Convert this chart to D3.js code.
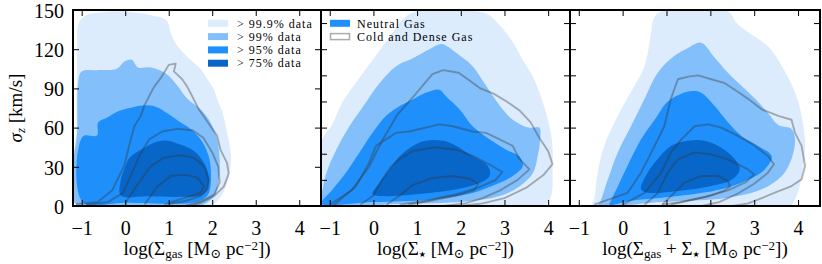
<!DOCTYPE html>
<html>
<head>
	<meta charset="utf-8">
	<script src="https://cdnjs.cloudflare.com/ajax/libs/d3/7.8.5/d3.min.js"></script>
	<style>
	body { margin: 0; background: #fff; }
	text { font-family: "Liberation Serif", "DejaVu Serif", serif; fill: #000; }
	.tick line { stroke: #000; stroke-width: 1px; }
	.tick text { font-size: 20px; }
	.spine { fill: none; stroke: #000; stroke-width: 2px; }
	.fill { stroke: none; }
	.cold { fill: none; stroke: rgba(55,55,55,0.38); stroke-width: 1.9px; stroke-linejoin: round; }
	.legend text { font-size: 12px; letter-spacing: 1px; }
	.star { font-family: "DejaVu Sans", sans-serif; }
	</style>
</head>
<body>
	<svg width="822" height="264"></svg>
	<script>
	//axis ticks
	let xTicks = [-1, 0, 1, 2, 3, 4],
		yTicksFirst = [0, 30, 60, 90, 120, 150],
		yTicksRest = [0, 20, 40, 60, 80, 100, 120, 140];

	//legend labels and level colours (outer to inner)
	let levelLabels = ["> 99.9% data", "> 99% data", "> 95% data", "> 75% data"],
		levelColors = ["#ddecfd", "#83c0fb", "#1e8ffb", "#0866c8"],
		gasLabels = ["Neutral Gas", "Cold and Dense Gas"];

	//panel 1: sigma_z vs log Sigma_gas, neutral gas levels
	let p1Fill999 = [[-1.12,0],[-1.12,60],[-1.1,120],[-1.07,140],[-0.9,146],[-0.6,148],[-0.2,149],[0.2,148],[0.6,146],[0.95,142],[1.05,132],[1.15,125],[1.43,114],[1.73,105],[1.89,97],[2.04,89],[2.11,82],[2.25,70],[2.34,56],[2.42,42],[2.42,30],[2.3,14],[2.15,5],[1.9,0]],
		p1Fill99 = [[-1.1,0],[-1.1,60],[-1.08,95],[-1.0,103],[-0.6,104],[-0.2,105],[0.0,111],[0.15,112],[0.3,106],[0.6,106],[0.95,101],[1.2,92],[1.43,82],[1.73,74],[1.96,64],[2.11,51],[2.17,36],[2.15,20],[2.05,8],[1.85,2],[1.6,0]],
		p1Fill95 = [[-0.98,3],[-0.98,53],[-0.65,54],[-0.62,64],[-0.4,68],[-0.2,72],[0.1,75],[0.4,77],[0.7,76],[0.97,71],[1.27,64],[1.5,59],[1.73,51],[1.89,41],[1.96,31],[1.96,15],[1.89,8],[1.73,4],[1.4,2],[0,2.5]],
		p1Fill75 = [[-0.1,8],[-0.1,20],[0.0,30],[0.1,37],[0.36,43],[0.66,48.5],[0.97,50],[1.27,47],[1.58,42],[1.81,33],[1.92,23],[1.89,13],[1.75,8],[1.3,7],[0.5,7.5]];

	//panel 1: cold and dense gas contours
	let p1Cold1 = [[-1.13,1.5],[-0.63,3],[-0.3,12],[-0.02,31],[0.09,46],[0.21,61],[0.36,69],[0.44,77],[0.55,84],[0.66,91],[0.82,98],[0.93,104],[1.0,108],[1.16,109],[1.12,103],[1.31,97],[1.43,91],[1.54,84],[1.69,74],[1.8,69],[1.96,61],[2.11,54],[2.19,43],[2.34,33],[2.38,25],[2.27,15],[2.04,7.6],[1.73,2.5],[1.5,0]],
		p1Cold2 = [[-0.9,1],[-0.4,3],[-0.05,10],[0.15,25],[0.35,40],[0.55,51],[0.85,57],[1.2,59],[1.55,58],[1.8,52],[2.0,41],[2.14,30],[2.17,18],[2.05,9],[1.75,3.5],[1.4,0.5]],
		p1Cold3 = [[0.0,1],[0.05,5],[0.36,20],[0.59,30.6],[0.89,37],[1.27,38.8],[1.58,37],[1.81,30.6],[1.92,20.4],[1.89,12.8],[1.73,7.6],[1.4,4],[1.0,1.5]],
		p1Cold4 = [[0.44,1],[0.74,15],[1.05,23],[1.35,24],[1.66,21.7],[1.81,15],[1.73,10],[1.45,7],[1.1,3.5],[0.9,1]];

	//panel 2: sigma_z vs log Sigma_star
	let p2Fill999 = [[-1.18,0],[-1.18,50],[-0.95,62],[-0.7,80],[-0.3,99],[0.1,117],[0.4,131],[0.65,142],[0.9,148],[1.3,150],[2.0,150],[2.6,147],[2.9,138],[3.2,125],[3.45,110],[3.65,99],[3.8,87],[4.03,61],[4.1,45],[4.1,30],[4.07,8],[3.9,0]],
		p2Fill99 = [[-1.18,1],[-1.15,15],[-1.08,25],[-0.85,43],[-0.55,61],[-0.24,76],[0.14,94],[0.52,107],[0.9,113],[1.28,120],[1.55,124],[1.7,122],[1.9,117],[2.27,107],[2.58,92],[2.89,77],[3.19,66],[3.55,60],[3.8,60],[3.82,52],[3.76,38],[3.65,25],[3.34,15],[2.89,7.6],[2.12,3.5],[0.5,1.5]],
		p2Fill95 = [[-1.18,2],[-0.93,12.8],[-0.63,25.5],[-0.32,41],[-0.02,56],[0.29,69],[0.6,76.5],[0.9,81.6],[1.2,86.7],[1.51,89],[1.66,84],[1.97,74],[2.27,61],[2.66,51],[3.04,43],[3.34,38],[3.42,30.6],[3.19,23],[2.81,16.6],[2.27,10],[1.36,5],[0,3]],
		p2Fill75 = [[-0.02,9],[0.14,18],[0.37,28],[0.6,38],[0.9,46],[1.2,50],[1.59,50],[1.9,46],[2.27,38],[2.62,30.6],[2.66,23],[2.35,16.6],[1.9,12.8],[0.98,9],[0.2,7.6]];

	let p2Cold1 = [[-1.0,1],[-0.5,12],[-0.1,30],[0.2,50],[0.55,70],[0.95,85],[1.2,95],[1.35,101],[1.6,104],[1.95,102],[2.2,96],[2.45,90],[2.75,86],[3.05,80],[3.35,73],[3.6,64],[3.8,52],[4.0,42],[4.1,32],[3.9,24],[3.5,14],[3.0,6],[2.5,2],[2.0,0]],
		p2Cold2 = [[-0.9,1],[-0.4,15],[-0.1,33],[0.06,46],[0.52,56],[0.82,57],[1.51,62.5],[1.82,61],[2.27,57],[2.58,56],[2.89,51],[3.19,46],[3.34,36],[3.57,28],[3.3,20],[2.9,12],[2.5,6],[2.1,2],[1.6,0]],
		p2Cold3 = [[-0.3,1],[0.0,8],[0.2,20],[0.4,30],[0.6,36],[0.9,42],[1.4,45],[1.9,43],[2.3,38],[2.7,31],[2.95,26],[2.8,20],[2.4,14],[1.9,9],[1.2,4],[0.6,1]],
		p2Cold4 = [[0.3,1],[0.6,8],[0.9,16],[1.3,21],[1.8,23],[2.2,21],[2.4,17],[2.3,12],[1.9,8],[1.3,4],[0.8,1]];

	//panel 3: sigma_z vs log (Sigma_gas + Sigma_star)
	let p3Fill999 = [[-0.7,0],[-0.65,5],[-0.57,25.5],[-0.42,46],[-0.11,69],[0.27,92],[0.5,107],[0.65,133],[0.7,143],[0.88,149],[1.5,150],[2.4,149],[2.6,140],[2.86,133],[3.32,122],[3.63,107],[3.93,87],[4.08,69],[4.16,48.5],[4.1,25.5],[3.93,5],[3.8,0]],
		p3Fill99 = [[-0.55,0.5],[-0.5,4],[-0.34,20],[-0.11,41],[0.19,61],[0.5,82],[0.8,102],[1.18,115],[1.49,121],[1.79,125],[2.1,113.5],[2.4,102],[2.71,92],[3.02,82],[3.32,71],[3.55,62],[3.85,59],[3.93,51],[3.85,36],[3.63,23],[3.17,12.8],[2.4,6.4],[0.88,3]],
		p3Fill95 = [[-0.3,1],[-0.27,4],[-0.11,15],[0.11,30.6],[0.42,51],[0.73,66],[1.03,80],[1.34,86],[1.6,88],[1.79,86.7],[2.1,76.5],[2.4,64],[2.71,53.6],[3.09,46],[3.4,38],[3.24,28],[2.86,20],[2.25,12.8],[1.26,7.6],[0.2,4]],
		p3Fill75 = [[0.42,12.8],[0.57,25.5],[0.8,36],[1.1,46],[1.49,50],[1.87,50],[2.25,44.6],[2.56,35.7],[2.67,28],[2.48,20],[2.02,15.3],[1.26,11.5],[0.57,10.2]];

	let p3Cold1 = [[-0.65,1],[0.11,10],[0.42,25.5],[0.73,46],[0.95,61],[1.1,82],[1.26,97],[1.5,99],[1.72,100],[2.02,97],[2.33,94],[2.6,88],[2.86,82],[3.17,74],[3.55,69],[3.85,66],[3.93,56],[4.08,46],[4.16,30.6],[4.08,20.4],[3.85,15.3],[3.47,10.2],[3.1,5],[2.86,2],[2.5,0]],
		p3Cold2 = [[0.0,1],[0.5,10],[0.88,25.5],[1.1,41],[1.34,51],[1.64,61],[1.95,62.5],[2.25,60],[2.63,53.6],[3.02,46],[3.32,38],[3.45,32],[3.3,25],[3.0,17],[2.6,9],[2.2,3],[1.8,0]],
		p3Cold3 = [[0.5,1],[0.8,10],[1.03,25.5],[1.26,35.7],[1.64,41],[2.02,39.5],[2.4,35.7],[2.86,28],[3.0,24],[2.8,18],[2.4,12],[1.9,7],[1.3,3],[0.9,1]],
		p3Cold4 = [[0.9,1],[1.1,7.6],[1.41,17.9],[1.79,23],[2.17,23],[2.4,19],[2.45,15],[2.33,12],[2.0,8],[1.5,4],[1.1,1]];

	//x axis labels, split into normal / sub / sup runs
	let xLabels = [
		[["log(Σ"], ["gas", "sub"], [" [M"], ["⊙", "sub"], [" pc"], ["−2", "sup"], ["])"]],
		[["log(Σ"], ["★", "star"], [" [M"], ["⊙", "sub"], [" pc"], ["−2", "sup"], ["])"]],
		[["log(Σ"], ["gas", "sub"], [" + Σ"], ["★", "star"], [" [M"], ["⊙", "sub"], [" pc"], ["−2", "sup"], ["])"]]
	];

	let panels = [
		{x0: 73, x1: 321, fills: [p1Fill999, p1Fill99, p1Fill95, p1Fill75], cold: [p1Cold1, p1Cold2, p1Cold3, p1Cold4], yTicks: yTicksFirst, yLabels: true, label: xLabels[0]},
		{x0: 321, x1: 570, fills: [p2Fill999, p2Fill99, p2Fill95, p2Fill75], cold: [p2Cold1, p2Cold2, p2Cold3, p2Cold4], yTicks: yTicksRest, yLabels: false, label: xLabels[1]},
		{x0: 570, x1: 820, fills: [p3Fill999, p3Fill99, p3Fill95, p3Fill75], cold: [p3Cold1, p3Cold2, p3Cold3, p3Cold4], yTicks: yTicksRest, yLabels: false, label: xLabels[2]}
	];

	let svg = d3.select("svg"),
		plotTop = 10, plotBottom = 206, tickLen = 6;

	let y = d3.scaleLinear().domain([0, 150]).range([plotBottom, plotTop]);

	panels.forEach(function(p, i) {
		let x = d3.scaleLinear().domain([-1.2, 4.5]).range([p.x0, p.x1]);

		svg.append("clipPath").attr("id", "clip" + i)
			.append("rect").attr("x", p.x0).attr("y", plotTop).attr("width", p.x1 - p.x0).attr("height", plotBottom - plotTop);

		let g = svg.append("g").attr("clip-path", "url(#clip" + i + ")");

		//filled density levels
		let area = d3.line()
			.curve(d3.curveCatmullRomClosed.alpha(0.5))
			.x(function(d) { return x(d[0]); })
			.y(function(d) { return y(d[1]); });

		g.selectAll(".fill")
			.data(p.fills)
			.enter()
			.append("path")
			.attr("class", "fill")
			.attr("fill", function(d, j) { return levelColors[j]; })
			.attr("d", area);

		//cold and dense gas contour lines
		let line = d3.line()
			.curve(d3.curveLinear)
			.x(function(d) { return x(d[0]); })
			.y(function(d) { return y(d[1]); });

		g.selectAll(".cold")
			.data(p.cold)
			.enter()
			.append("path")
			.attr("class", "cold")
			.attr("d", line);

		//axes with inward ticks on all four sides
		let xb = svg.append("g")
			.attr("transform", "translate(0," + plotBottom + ")")
			.call(d3.axisBottom(x).tickValues(xTicks).tickFormat(d3.format("d")).tickSizeInner(-tickLen).tickSizeOuter(0).tickPadding(15));
		xb.select(".domain").remove();

		let xt = svg.append("g")
			.attr("transform", "translate(0," + plotTop + ")")
			.call(d3.axisTop(x).tickValues(xTicks).tickSizeInner(-tickLen).tickSizeOuter(0).tickFormat(""));
		xt.select(".domain").remove();

		let yl = svg.append("g")
			.attr("transform", "translate(" + p.x0 + ",0)")
			.call(d3.axisLeft(y).tickValues(p.yTicks).tickSizeInner(-tickLen).tickSizeOuter(0).tickPadding(9)
				.tickFormat(p.yLabels ? d3.format("d") : ""));
		yl.select(".domain").remove();
		yl.selectAll("text").attr("dy", "0.36em");

		let yr = svg.append("g")
			.attr("transform", "translate(" + p.x1 + ",0)")
			.call(d3.axisRight(y).tickValues(p.yTicks).tickSizeInner(-tickLen).tickSizeOuter(0).tickFormat(""));
		yr.select(".domain").remove();

		svg.append("rect")
			.attr("class", "spine")
			.attr("x", p.x0).attr("y", plotTop)
			.attr("width", p.x1 - p.x0).attr("height", plotBottom - plotTop);

		//x axis title
		let t = svg.append("text")
			.attr("x", (p.x0 + p.x1) / 2)
			.attr("y", 255)
			.attr("text-anchor", "middle")
			.style("font-size", "19px");
		p.label.forEach(function(run) {
			let s = t.append("tspan").text(run[0]);
			if (run[1] === "sub") s.attr("baseline-shift", "-25%").style("font-size", "13px");
			if (run[1] === "star") s.attr("class", "star").attr("baseline-shift", "-30%").style("font-size", "8px");
			if (run[1] === "sup") s.attr("baseline-shift", "40%").style("font-size", "13px");
		});
	});

	//y axis title
	let yt = svg.append("text")
		.attr("transform", "translate(22,108) rotate(-90)")
		.attr("text-anchor", "middle")
		.style("font-size", "19px");
	yt.append("tspan").style("font-style", "italic").text("σ");
	yt.append("tspan").style("font-style", "italic").style("font-size", "13px").attr("baseline-shift", "-25%").text("z");
	yt.append("tspan").text(" [km/s]");

	//legend for the levels (panel 1)
	let leg1 = svg.append("g").attr("class", "legend");
	levelLabels.forEach(function(lab, i) {
		let ly = 23.3 + i * 13.3;
		leg1.append("rect").attr("x", 208).attr("y", ly - 3.5).attr("width", 20).attr("height", 7).attr("fill", levelColors[i]);
		leg1.append("text").attr("x", 237).attr("y", ly).attr("dy", "0.35em").text(lab);
	});

	//legend for the gas phases (panel 2)
	let leg2 = svg.append("g").attr("class", "legend");
	gasLabels.forEach(function(lab, i) {
		let ly = 23.3 + i * 13.3;
		if (i === 0) {
			leg2.append("rect").attr("x", 330).attr("y", ly - 3.5).attr("width", 20).attr("height", 7).attr("fill", levelColors[2]);
		} else {
			leg2.append("rect").attr("x", 330.5).attr("y", ly - 3).attr("width", 19).attr("height", 6)
				.attr("fill", "#fff").attr("stroke", "#aaa").attr("stroke-width", 1.5);
		}
		leg2.append("text").attr("x", 357).attr("y", ly).attr("dy", "0.35em").text(lab);
	});
	</script>
</body>
</html>
